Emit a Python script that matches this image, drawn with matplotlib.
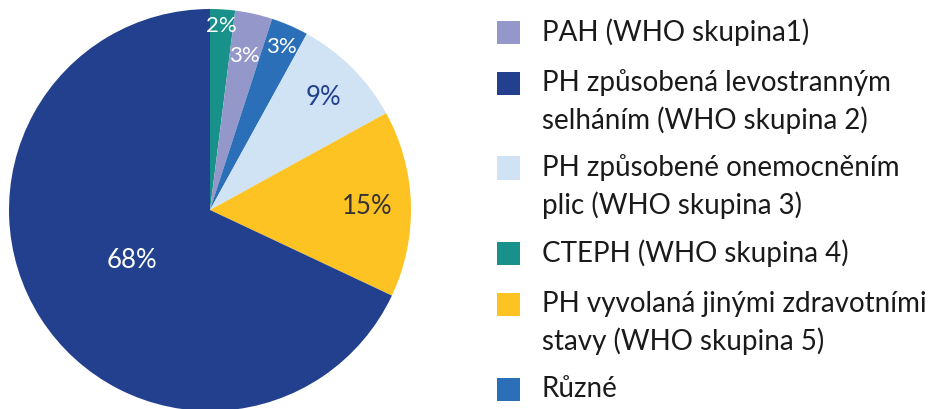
import matplotlib
matplotlib.use("Agg")
import matplotlib.pyplot as plt
from matplotlib.patches import Rectangle
import numpy as np

# Data (clockwise from 12 o'clock)
slice_labels = ["CTEPH (WHO skupina 4)", "PAH (WHO skupina1)", "Různé",
                "PH způsobené onemocněním\nplic (WHO skupina 3)",
                "PH vyvolaná jinými zdravotními\nstavy (WHO skupina 5)",
                "PH způsobená levostranným\nselháním (WHO skupina 2)"]
slice_values = [2, 3, 3, 9, 15, 68]
slice_colors = ["#17918a", "#9497ca", "#2a6fb7", "#cfe3f4", "#fdc323", "#22408d"]
pct_colors = ["white", "white", "white", "#22408d", "#333333", "white"]
pct_dist = [0.92, 0.79, 0.89, 0.80, 0.78, 0.46]
pct_size = [16, 16, 16, 18.5, 18.5, 18.5]

# Legend order
legend_order = [1, 5, 3, 0, 4, 2]

W, H = 936, 410
fig = plt.figure(figsize=(W / 100, H / 100), dpi=100)

cx, cy, R = 210, 199, 201  # pixel coords (cy from bottom)
ax = fig.add_axes([(cx - R) / W, (cy - R) / H, 2 * R / W, 2 * R / H])
wedges, _ = ax.pie(slice_values, colors=slice_colors, startangle=90,
                   counterclock=False, radius=1,
                   wedgeprops=dict(linewidth=0))
ax.set_xlim(-1, 1)
ax.set_ylim(-1, 1)
ax.set_aspect("equal")
ax.axis("off")
for w in wedges:
    w.set_clip_on(False)

for w, v, c, d, s in zip(wedges, slice_values, pct_colors, pct_dist, pct_size):
    ang = np.deg2rad((w.theta1 + w.theta2) / 2)
    ax.text(d * np.cos(ang), d * np.sin(ang), f"{v}%", ha="center", va="center",
            color=c, fontsize=s, family=["Lato", "DejaVu Sans"], fontweight="normal")

# Legend drawn manually
box_x0, box_w = 497, 23
text_x = 542
line_h = 37
y = 33  # from top, center of first line
for idx in legend_order:
    lab = slice_labels[idx]
    nlines = lab.count("\n") + 1
    fig.patches.append(Rectangle((box_x0 / W, 1 - (y + box_w / 2) / H), box_w / W, box_w / H,
                                 transform=fig.transFigure, facecolor=slice_colors[idx],
                                 edgecolor="none"))
    for k, line in enumerate(lab.split("\n")):
        fig.text(text_x / W, 1 - (y - 1 + k * line_h) / H, line, ha="left", va="center",
                 fontsize=20, family=["Lato", "DejaVu Sans"], color="#1a1a1a")
    y += 51 if nlines == 1 else 85

fig.savefig("out.png", dpi=100, facecolor="white")
